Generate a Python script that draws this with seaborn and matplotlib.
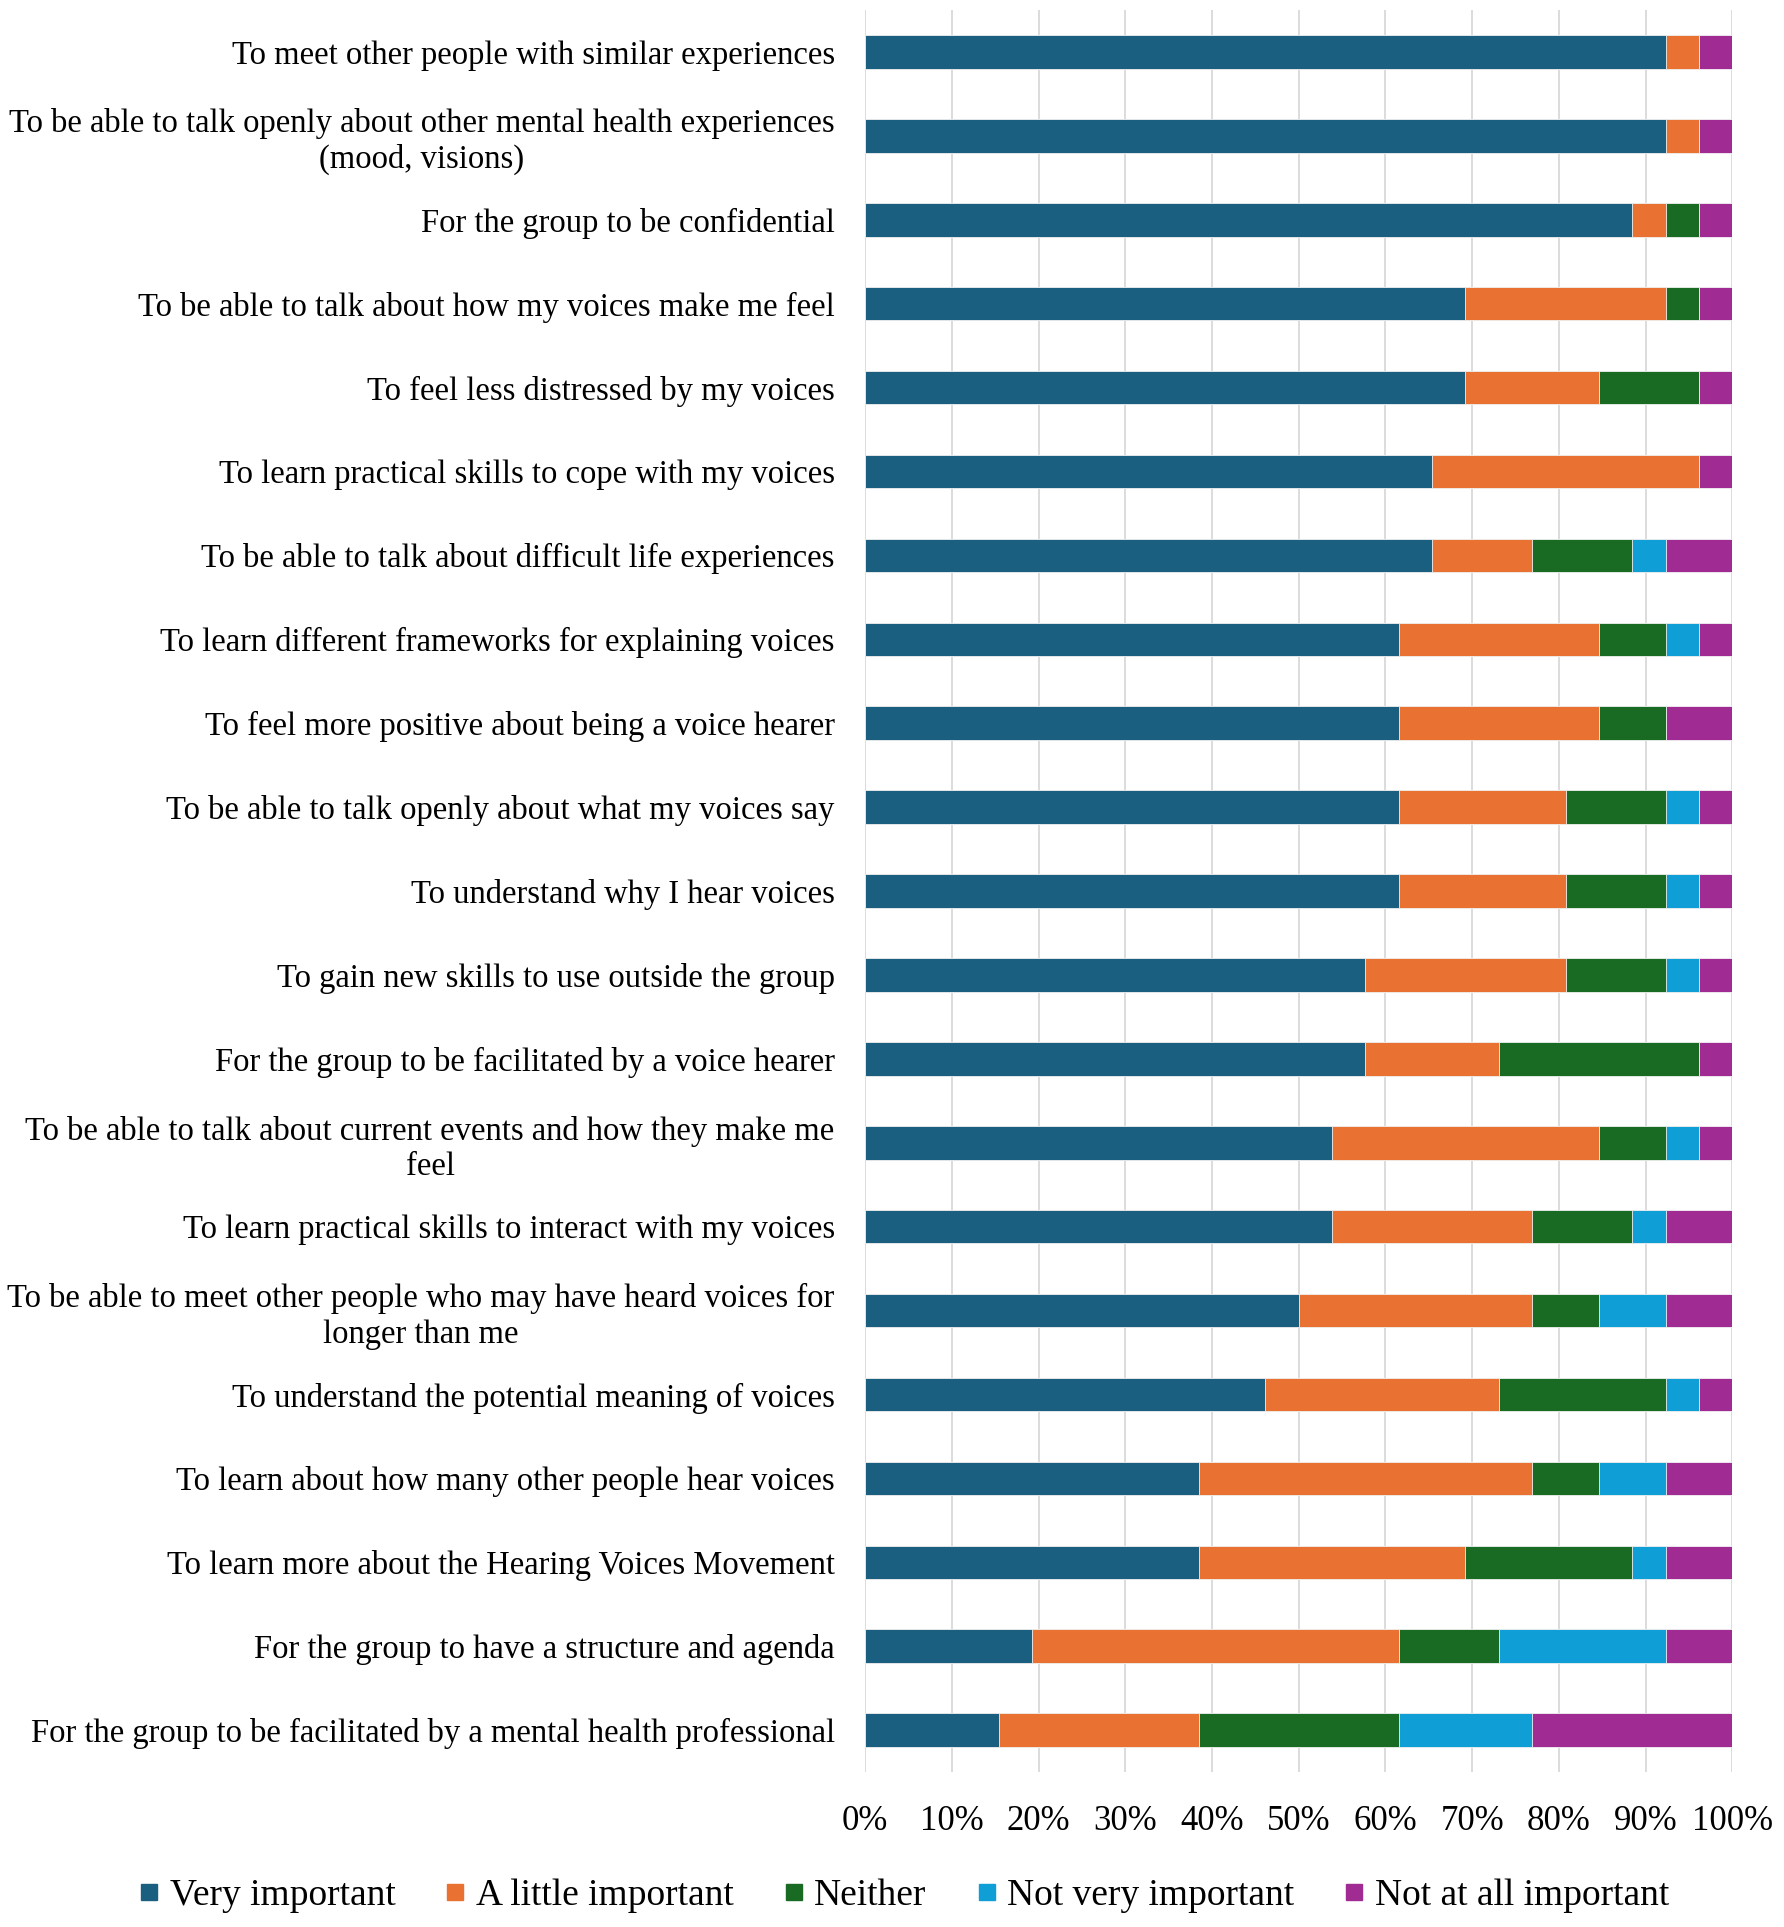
import matplotlib
matplotlib.use("Agg")
import matplotlib.pyplot as plt
import numpy as np
import pandas as pd
import seaborn as sns
from matplotlib.lines import Line2D
from matplotlib.ticker import PercentFormatter

items = [
    "To meet other people with similar experiences",
    "To be able to talk openly about other mental health experiences\n(mood, visions)",
    "For the group to be confidential",
    "To be able to talk about how my voices make me feel",
    "To feel less distressed by my voices",
    "To learn practical skills to cope with my voices",
    "To be able to talk about difficult life experiences",
    "To learn different frameworks for explaining voices",
    "To feel more positive about being a voice hearer",
    "To be able to talk openly about what my voices say",
    "To understand why I hear voices",
    "To gain new skills to use outside the group",
    "For the group to be facilitated by a voice hearer",
    "To be able to talk about current events and how they make me\nfeel",
    "To learn practical skills to interact with my voices",
    "To be able to meet other people who may have heard voices for\nlonger than me",
    "To understand the potential meaning of voices",
    "To learn about how many other people hear voices",
    "To learn more about the Hearing Voices Movement",
    "For the group to have a structure and agenda",
    "For the group to be facilitated by a mental health professional",
]

very_important = [92.31, 92.31, 88.46, 69.23, 69.23, 65.38, 65.38, 61.54, 61.54, 61.54,
                  61.54, 57.69, 57.69, 53.85, 53.85, 50.00, 46.15, 38.46, 38.46, 19.23, 15.38]
little_important = [3.85, 3.85, 3.85, 23.08, 15.38, 30.77, 11.54, 23.08, 23.08, 19.23,
                    19.23, 23.08, 15.38, 30.77, 23.08, 26.92, 26.92, 38.46, 30.77, 42.31, 23.08]
neither = [0.00, 0.00, 3.85, 3.85, 11.54, 0.00, 11.54, 7.69, 7.69, 11.54,
           11.54, 11.54, 23.08, 7.69, 11.54, 7.69, 19.23, 7.69, 19.23, 11.54, 23.08]
not_very = [0.00, 0.00, 0.00, 0.00, 0.00, 0.00, 3.85, 3.85, 0.00, 3.85,
            3.85, 3.85, 0.00, 3.85, 3.85, 7.69, 3.85, 7.69, 3.85, 19.23, 15.38]
not_at_all = [3.85, 3.85, 3.85, 3.85, 3.85, 3.85, 7.69, 3.85, 7.69, 3.85,
              3.85, 3.85, 3.85, 3.85, 7.69, 7.69, 3.85, 7.69, 7.69, 7.69, 23.08]

series = ["Very important", "A little important", "Neither",
          "Not very important", "Not at all important"]
colors = ["#1a5f80", "#e97132", "#196b24", "#0f9ed5", "#a02b93"]

df = pd.DataFrame({
    "item": items,
    series[0]: very_important,
    series[1]: little_important,
    series[2]: neither,
    series[3]: not_very,
    series[4]: not_at_all,
})
cum = df[series].cumsum(axis=1)
cum["item"] = df["item"]

sns.set_style("white")
plt.rcParams["font.family"] = ["Liberation Serif", "DejaVu Serif"]
plt.rcParams["text.color"] = "black"
plt.rcParams["xtick.color"] = "black"
plt.rcParams["ytick.color"] = "black"

fig = plt.figure(figsize=(17.84, 19.27), dpi=100)
ax = fig.add_axes([0.485, 0.0804, 0.486, 0.9144])

# stacked bars: draw cumulative totals from the outermost layer inward
for name, color in reversed(list(zip(series, colors))):
    sns.barplot(data=cum, x=name, y="item", orient="h", color=color,
                width=0.4, edgecolor="#f2f2f2", linewidth=0.6, ax=ax,
                saturation=1, zorder=3)

ax.set_xlim(0, 100)
ax.set_ylim(len(items) - 0.5, -0.5)
ax.set_xticks(np.arange(0, 101, 10))
ax.xaxis.set_major_formatter(PercentFormatter(decimals=0))
ax.grid(axis="x", color="#d9d9d9", linewidth=1.3, zorder=0)
ax.grid(axis="y", visible=False)
for s in ax.spines.values():
    s.set_visible(False)
ax.set_xlabel("")
ax.set_ylabel("")
ax.tick_params(axis="x", length=0, pad=24, labelsize=25, labelcolor="black")
ax.tick_params(axis="y", length=0, pad=22, labelsize=23.5, labelcolor="black")
for lbl in ax.get_yticklabels():
    lbl.set_multialignment("center")
    lbl.set_linespacing(1.2)

handles = [Line2D([0], [0], marker="s", linestyle="none", markersize=12,
                  markerfacecolor=c, markeredgecolor=c) for c in colors]
leg = fig.legend(handles, series, loc="center", bbox_to_anchor=(0.507, 0.016),
                 ncol=5, frameon=False, fontsize=27, handletextpad=0.3,
                 columnspacing=1.35, handlelength=0.5)
for t in leg.get_texts():
    t.set_color("black")

fig.savefig("out.png", dpi=100)
